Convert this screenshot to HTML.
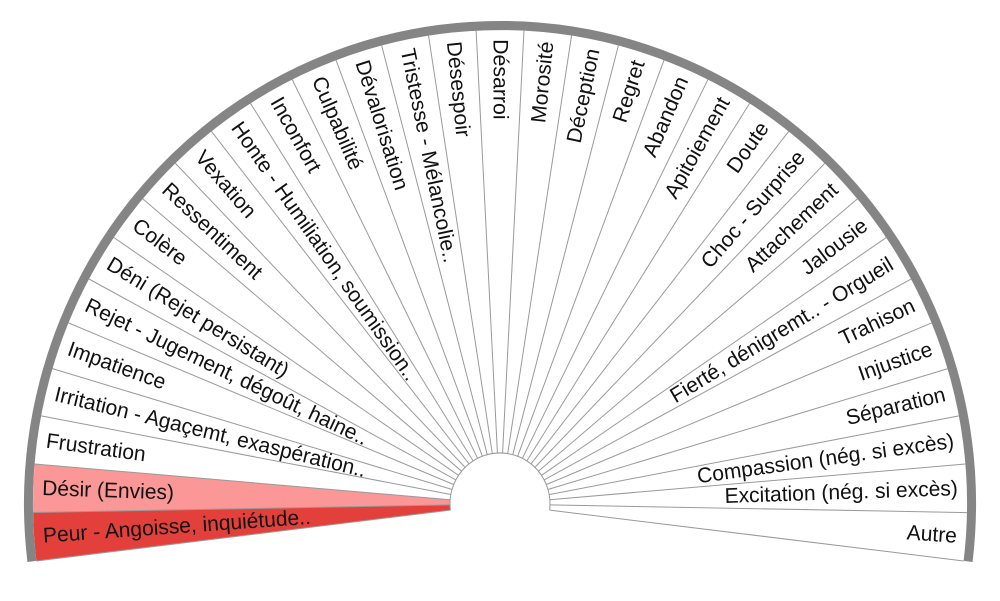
<!DOCTYPE html>
<html><head><meta charset="utf-8"><style>
html,body{margin:0;padding:0;background:#fff;}
svg{display:block;}
text{font-family:"Liberation Sans",Arial,sans-serif;font-size:21px;fill:#111;dominant-baseline:central;}
</style></head><body>
<svg width="1000" height="601" viewBox="0 0 1000 601" xmlns="http://www.w3.org/2000/svg">
<g transform="translate(0,504) scale(1,1.015) translate(0,-504)">
  <path d="M500 504 L36.4 560.1 A467 467 0 0 1 33.1 512.4 Z" fill="#e3403c"/>
  <path d="M500 504 L33.1 512.4 A467 467 0 0 1 34.7 464.6 Z" fill="#fb9796"/>
  <g stroke="#9a9a9a" stroke-width="1">
    <line x1="450" y1="504" x2="33" y2="504" transform="rotate(-6.9 500 504)"/>
    <line x1="450" y1="504" x2="33" y2="504" transform="rotate(-1.027 500 504)"/>
    <line x1="450" y1="504" x2="33" y2="504" transform="rotate(4.846 500 504)"/>
    <line x1="450" y1="504" x2="33" y2="504" transform="rotate(10.719 500 504)"/>
    <line x1="450" y1="504" x2="33" y2="504" transform="rotate(16.592 500 504)"/>
    <line x1="450" y1="504" x2="33" y2="504" transform="rotate(22.465 500 504)"/>
    <line x1="450" y1="504" x2="33" y2="504" transform="rotate(28.338 500 504)"/>
    <line x1="450" y1="504" x2="33" y2="504" transform="rotate(34.211 500 504)"/>
    <line x1="450" y1="504" x2="33" y2="504" transform="rotate(40.084 500 504)"/>
    <line x1="450" y1="504" x2="33" y2="504" transform="rotate(45.957 500 504)"/>
    <line x1="450" y1="504" x2="33" y2="504" transform="rotate(51.83 500 504)"/>
    <line x1="450" y1="504" x2="33" y2="504" transform="rotate(57.703 500 504)"/>
    <line x1="450" y1="504" x2="33" y2="504" transform="rotate(63.576 500 504)"/>
    <line x1="450" y1="504" x2="33" y2="504" transform="rotate(69.449 500 504)"/>
    <line x1="450" y1="504" x2="33" y2="504" transform="rotate(75.322 500 504)"/>
    <line x1="450" y1="504" x2="33" y2="504" transform="rotate(81.195 500 504)"/>
    <line x1="450" y1="504" x2="33" y2="504" transform="rotate(87.068 500 504)"/>
    <line x1="450" y1="504" x2="33" y2="504" transform="rotate(92.941 500 504)"/>
    <line x1="450" y1="504" x2="33" y2="504" transform="rotate(98.814 500 504)"/>
    <line x1="450" y1="504" x2="33" y2="504" transform="rotate(104.687 500 504)"/>
    <line x1="450" y1="504" x2="33" y2="504" transform="rotate(110.56 500 504)"/>
    <line x1="450" y1="504" x2="33" y2="504" transform="rotate(116.433 500 504)"/>
    <line x1="450" y1="504" x2="33" y2="504" transform="rotate(122.306 500 504)"/>
    <line x1="450" y1="504" x2="33" y2="504" transform="rotate(128.179 500 504)"/>
    <line x1="450" y1="504" x2="33" y2="504" transform="rotate(134.052 500 504)"/>
    <line x1="450" y1="504" x2="33" y2="504" transform="rotate(139.925 500 504)"/>
    <line x1="450" y1="504" x2="33" y2="504" transform="rotate(145.798 500 504)"/>
    <line x1="450" y1="504" x2="33" y2="504" transform="rotate(151.671 500 504)"/>
    <line x1="450" y1="504" x2="33" y2="504" transform="rotate(157.544 500 504)"/>
    <line x1="450" y1="504" x2="33" y2="504" transform="rotate(163.417 500 504)"/>
    <line x1="450" y1="504" x2="33" y2="504" transform="rotate(169.29 500 504)"/>
    <line x1="450" y1="504" x2="33" y2="504" transform="rotate(175.163 500 504)"/>
    <line x1="450" y1="504" x2="33" y2="504" transform="rotate(181.036 500 504)"/>
    <line x1="450" y1="504" x2="33" y2="504" transform="rotate(186.9 500 504)"/>
  </g>
  <path d="M450.4 510 A50 50 0 1 1 549.6 510" fill="#fff" stroke="#9a9a9a" stroke-width="1"/>
  <path d="M31.9 560.6 A471.5 471.5 0 1 1 968.1 560.6" fill="none" stroke="#858585" stroke-width="9"/>
  <g>
    <text x="42" y="504" transform="rotate(-3.96 500 504)">Peur - Angoisse, inquiétude..</text>
    <text x="42" y="504" transform="rotate(1.91 500 504)">Désir (Envies)</text>
    <text x="42" y="504" transform="rotate(7.78 500 504)">Frustration</text>
    <text x="42" y="504" transform="rotate(13.66 500 504)">Irritation - Agaçemt, exaspération..</text>
    <text x="42" y="504" transform="rotate(19.53 500 504)">Impatience</text>
    <text x="42" y="504" transform="rotate(25.40 500 504)">Rejet - Jugement, dégoût, haine..</text>
    <text x="42" y="504" transform="rotate(31.28 500 504)">Déni (Rejet persistant)</text>
    <text x="42" y="504" transform="rotate(37.15 500 504)">Colère</text>
    <text x="42" y="504" transform="rotate(43.02 500 504)">Ressentiment</text>
    <text x="42" y="504" transform="rotate(48.90 500 504)">Vexation</text>
    <text x="42" y="504" transform="rotate(54.77 500 504)">Honte - Humiliation, soumission..</text>
    <text x="42" y="504" transform="rotate(60.64 500 504)">Inconfort</text>
    <text x="42" y="504" transform="rotate(66.52 500 504)">Culpabilité</text>
    <text x="42" y="504" transform="rotate(72.39 500 504)">Dévalorisation</text>
    <text x="42" y="504" transform="rotate(78.27 500 504)">Tristesse - Mélancolie..</text>
    <text x="42" y="504" transform="rotate(84.14 500 504)">Désespoir</text>
    <text x="42" y="504" transform="rotate(90.01 500 504)">Désarroi</text>
  </g>
  <g>
    <text x="958" y="504" text-anchor="end" transform="rotate(-84.11 500 504)">Morosité</text>
    <text x="958" y="504" text-anchor="end" transform="rotate(-78.24 500 504)">Déception</text>
    <text x="958" y="504" text-anchor="end" transform="rotate(-72.37 500 504)">Regret</text>
    <text x="958" y="504" text-anchor="end" transform="rotate(-66.49 500 504)">Abandon</text>
    <text x="958" y="504" text-anchor="end" transform="rotate(-60.62 500 504)">Apitoiement</text>
    <text x="958" y="504" text-anchor="end" transform="rotate(-54.75 500 504)">Doute</text>
    <text x="958" y="504" text-anchor="end" transform="rotate(-48.87 500 504)">Choc - Surprise</text>
    <text x="958" y="504" text-anchor="end" transform="rotate(-43.00 500 504)">Attachement</text>
    <text x="958" y="504" text-anchor="end" transform="rotate(-37.13 500 504)">Jalousie</text>
    <text x="958" y="504" text-anchor="end" transform="rotate(-31.25 500 504)">Fierté, dénigremt.. - Orgueil</text>
    <text x="958" y="504" text-anchor="end" transform="rotate(-25.38 500 504)">Trahison</text>
    <text x="958" y="504" text-anchor="end" transform="rotate(-19.51 500 504)">Injustice</text>
    <text x="958" y="504" text-anchor="end" transform="rotate(-13.63 500 504)">Séparation</text>
    <text x="958" y="504" text-anchor="end" transform="rotate(-7.76 500 504)">Compassion (nég. si excès)</text>
    <text x="958" y="504" text-anchor="end" transform="rotate(-1.89 500 504)">Excitation (nég. si excès)</text>
    <text x="958" y="504" text-anchor="end" transform="rotate(3.99 500 504)">Autre</text>
  </g>
</g>
</svg>
</body></html>
